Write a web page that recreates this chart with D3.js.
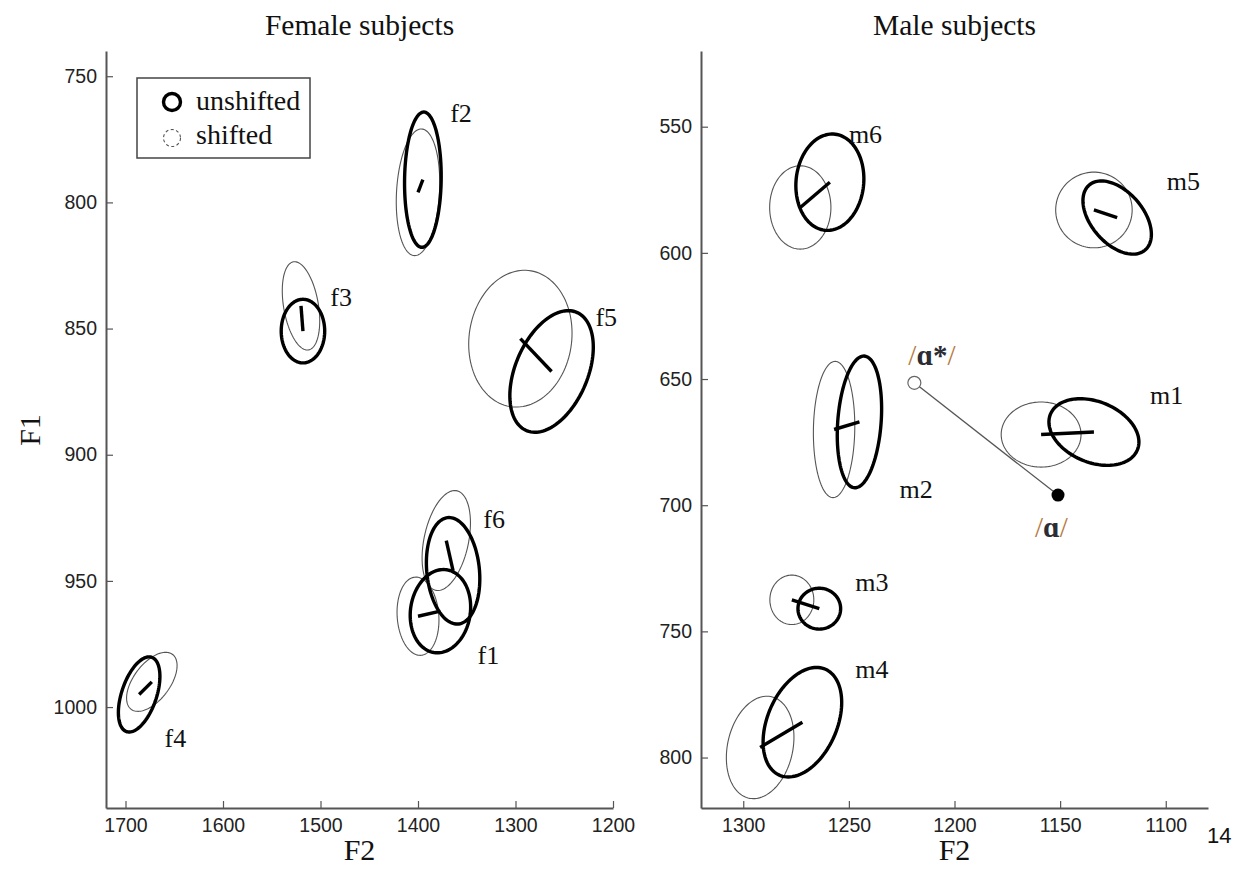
<!DOCTYPE html>
<html>
<head>
<meta charset="utf-8">
<script src="https://cdn.jsdelivr.net/npm/d3@7"></script>
<style>
  body { margin: 0; background: #fff; }
  svg { display: block; }
</style>
</head>
<body>
<svg id="chart" width="1233" height="869"></svg>
<script>
// Formant ellipses per subject: [F2 mean, F1 mean, sd F2, sd F1, correlation]
const femaleSubjects = ["f1", "f2", "f3", "f4", "f5", "f6"];
const femaleUnshifted = [
  [1377, 962, 31.0, 16.5, 0.10],
  [1395, 791, 18.8, 26.8, 0.05],
  [1518, 851, 22.3, 12.6, 0.00],
  [1686, 995, 21.3, 14.9, 0.48],
  [1263, 867, 42.8, 24.1, 0.40],
  [1364, 946, 27.4, 21.1, -0.15]
];
const femaleShifted = [
  [1400, 964, 21.5, 15.5, -0.10],
  [1400, 796, 22.3, 25.1, 0.15],
  [1520, 841, 19.2, 17.5, -0.34],
  [1673, 990, 25.9, 11.7, 0.55],
  [1295, 854, 53.0, 27.1, 0.08],
  [1371, 934, 24.8, 19.8, 0.35]
];
// label anchor in (F2, F1)
const femaleLabelAt = [[1339, 983], [1367, 768], [1490, 841], [1660, 1016], [1218, 849], [1333, 929]];

const maleSubjects = ["m1", "m2", "m3", "m4", "m5", "m6"];
const maleUnshifted = [
  [1134, 671, 21.3, 13.2, -0.30],
  [1245, 667, 10.5, 26.1, 0.20],
  [1264, 741, 10.1, 8.1, 0.00],
  [1272, 786, 18.6, 21.7, 0.36],
  [1123, 586, 16.2, 14.5, -0.46],
  [1259, 572, 16.1, 19.1, 0.07]
];
const maleShifted = [
  [1159, 672, 18.9, 12.9, 0.00],
  [1257, 670, 9.8, 27.0, 0.05],
  [1277, 737.5, 10.4, 9.8, 0.00],
  [1292, 796, 16.0, 20.3, 0.20],
  [1134, 583, 18.1, 15.0, 0.00],
  [1273, 582, 14.5, 16.5, 0.00]
];
const maleLabelAt = [[1107.5, 660], [1226, 697], [1247, 734], [1247, 768.5], [1099.5, 575], [1250, 556.5]];

// vowel targets in the male panel: shifted /ɑ*/ and produced /ɑ/
const vowelShifted = [1219, 651.5];
const vowelProduced = [1151, 696];

// axis extents and ticks
const femaleF2Domain = [1720, 1200];
const femaleF1Domain = [740, 1040];
const femaleF2Ticks = [1700, 1600, 1500, 1400, 1300, 1200];
const femaleF1Ticks = [750, 800, 850, 900, 950, 1000];
const maleF2Domain = [1320, 1080];
const maleF1Domain = [520, 820];
const maleF2Ticks = [1300, 1250, 1200, 1150, 1100];
const maleF1Ticks = [550, 600, 650, 700, 750, 800];

const svg = d3.select("#chart");
const serif = "'Liberation Serif', 'Times New Roman', 'DejaVu Serif', serif";
const sans = "'Liberation Sans', Arial, sans-serif";
const fmt = d3.format("d");

function ellipsePoints(e) {
  const [cx, cy, s2, s1, r] = e;
  const k = Math.sqrt(1 - r * r);
  return d3.range(0, 120).map(i => {
    const t = (i / 120) * 2 * Math.PI;
    return [cx + s2 * Math.cos(t), cy + s1 * (r * Math.cos(t) + k * Math.sin(t))];
  });
}

function panel(opts) {
  const x = d3.scaleLinear().domain(opts.xDomain).range([opts.left, opts.left + 507]);
  const y = d3.scaleLinear().domain(opts.yDomain).range([51, 808]);
  const g = svg.append("g");

  // axes, ticks pointing into the plot
  const ax = g.append("g").attr("transform", "translate(0,808)")
    .call(d3.axisBottom(x).tickValues(opts.xTicks).tickFormat(fmt)
      .tickSizeInner(-7).tickSizeOuter(0).tickPadding(10));
  const ay = g.append("g").attr("transform", `translate(${opts.left},0)`)
    .call(d3.axisLeft(y).tickValues(opts.yTicks).tickFormat(fmt)
      .tickSizeInner(-7).tickSizeOuter(0).tickPadding(9));
  [ax, ay].forEach(a => {
    a.select(".domain").attr("stroke", "#555").attr("stroke-width", 2);
    a.selectAll(".tick line").attr("stroke", "#555").attr("stroke-width", 1.2);
    a.selectAll(".tick text").attr("font-family", sans).attr("font-size", 19.5).attr("fill", "#222");
  });
  ax.selectAll(".tick text").attr("dy", "0.72em");

  const line = d3.line().x(d => x(d[0])).y(d => y(d[1])).curve(d3.curveLinearClosed);
  const seg = d3.line().x(d => x(d[0])).y(d => y(d[1]));

  // shifted-feedback ellipses (thin)
  g.append("g").selectAll("path").data(opts.shifted).join("path")
    .attr("d", d => line(ellipsePoints(d)))
    .attr("fill", "none").attr("stroke", "#555").attr("stroke-width", 1.1);
  // unshifted ellipses (thick)
  g.append("g").selectAll("path").data(opts.unshifted).join("path")
    .attr("d", d => line(ellipsePoints(d)))
    .attr("fill", "none").attr("stroke", "#000").attr("stroke-width", 3.4);
  // segment joining the two means
  g.append("g").selectAll("path").data(opts.unshifted.map((u, i) => [opts.shifted[i], u])).join("path")
    .attr("d", d => seg([[d[0][0], d[0][1]], [d[1][0], d[1][1]]]))
    .attr("stroke", "#000").attr("stroke-width", 3.4).attr("fill", "none");

  // subject labels
  g.append("g").selectAll("text").data(opts.labels).join("text")
    .attr("x", (d, i) => x(opts.labelAt[i][0]))
    .attr("y", (d, i) => y(opts.labelAt[i][1]))
    .attr("font-family", serif).attr("font-size", 26).attr("fill", "#111")
    .text(d => d);

  // titles
  g.append("text").attr("x", opts.left + 253.5).attr("y", 35)
    .attr("text-anchor", "middle").attr("font-family", serif).attr("font-size", 29.5).attr("fill", "#111")
    .text(opts.title);
  g.append("text").attr("x", opts.left + 253.5).attr("y", 860)
    .attr("text-anchor", "middle").attr("font-family", serif).attr("font-size", 30).attr("fill", "#111")
    .text("F2");

  return { x, y, g };
}

const female = panel({
  left: 106, xDomain: femaleF2Domain, yDomain: femaleF1Domain,
  xTicks: femaleF2Ticks, yTicks: femaleF1Ticks,
  unshifted: femaleUnshifted, shifted: femaleShifted,
  labels: femaleSubjects, labelAt: femaleLabelAt, title: "Female subjects"
});
const male = panel({
  left: 701, xDomain: maleF2Domain, yDomain: maleF1Domain,
  xTicks: maleF2Ticks, yTicks: maleF1Ticks,
  unshifted: maleUnshifted, shifted: maleShifted,
  labels: maleSubjects, labelAt: maleLabelAt, title: "Male subjects"
});

// F1 axis title
svg.append("text").attr("transform", "translate(40,430) rotate(-90)")
  .attr("text-anchor", "middle").attr("font-family", serif).attr("font-size", 30).attr("fill", "#111")
  .text("F1");

// vowel shift in the male panel
{
  const { x, y, g } = male;
  g.append("line")
    .attr("x1", x(vowelShifted[0])).attr("y1", y(vowelShifted[1]))
    .attr("x2", x(vowelProduced[0])).attr("y2", y(vowelProduced[1]))
    .attr("stroke", "#555").attr("stroke-width", 1.3);
  g.append("circle").attr("cx", x(vowelShifted[0])).attr("cy", y(vowelShifted[1])).attr("r", 6.5)
    .attr("fill", "#fff").attr("stroke", "#666").attr("stroke-width", 1.2);
  g.append("circle").attr("cx", x(vowelProduced[0])).attr("cy", y(vowelProduced[1])).attr("r", 6.5)
    .attr("fill", "#000");

  const ipa = "'Liberation Serif', 'DejaVu Serif', serif";
  const slash = "#b67a3c", glyph = "#2c2c34";
  const t1 = g.append("text").attr("x", x(vowelShifted[0]) - 6).attr("y", y(vowelShifted[1]) - 18)
    .attr("font-family", ipa).attr("font-size", 29).attr("font-weight", "bold");
  t1.append("tspan").attr("fill", slash).attr("font-weight", "normal").text("/");
  t1.append("tspan").attr("fill", glyph).text("ɑ*");
  t1.append("tspan").attr("fill", slash).attr("font-weight", "normal").text("/");

  const t2 = g.append("text").attr("x", x(vowelProduced[0]) - 23).attr("y", y(vowelProduced[1]) + 42)
    .attr("font-family", ipa).attr("font-size", 29).attr("font-weight", "bold");
  t2.append("tspan").attr("fill", slash).attr("font-weight", "normal").text("/");
  t2.append("tspan").attr("fill", glyph).text("ɑ");
  t2.append("tspan").attr("fill", slash).attr("font-weight", "normal").text("/");
}

// legend
{
  const lg = svg.append("g");
  lg.append("rect").attr("x", 137).attr("y", 78).attr("width", 173).attr("height", 80)
    .attr("fill", "#fff").attr("stroke", "#444").attr("stroke-width", 1.5);
  lg.append("circle").attr("cx", 172).attr("cy", 102).attr("r", 8.5)
    .attr("fill", "none").attr("stroke", "#000").attr("stroke-width", 3.4);
  lg.append("circle").attr("cx", 172).attr("cy", 138).attr("r", 8.5)
    .attr("fill", "none").attr("stroke", "#555").attr("stroke-width", 1.1).attr("stroke-dasharray", "3,2.5");
  lg.append("text").attr("x", 196).attr("y", 110).attr("font-family", serif).attr("font-size", 28)
    .attr("fill", "#111").text("unshifted");
  lg.append("text").attr("x", 196).attr("y", 144).attr("font-family", serif).attr("font-size", 28)
    .attr("fill", "#111").text("shifted");
}

// page number
svg.append("text").attr("x", 1207).attr("y", 843).attr("font-family", sans).attr("font-size", 22)
  .attr("fill", "#111").text("14");
</script>
</body>
</html>
